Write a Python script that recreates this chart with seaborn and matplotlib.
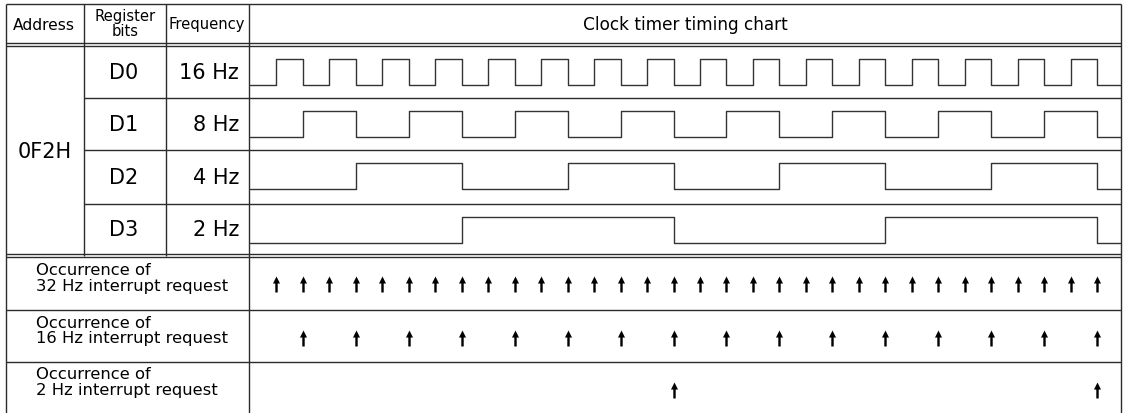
import matplotlib
matplotlib.use("Agg")
import matplotlib.pyplot as plt
import seaborn as sns
import pandas as pd
from matplotlib.path import Path

sns.set_theme(style="white")
plt.rcParams['font.family'] = ['DejaVu Sans']

# ---------------- data ----------------
title = "Clock timer timing chart"
header_address = "Address"
header_register = ["Register", "bits"]
header_freq = "Frequency"
address = "0F2H"
bit_names = ["D0", "D1", "D2", "D3"]
bit_freqs = ["16 Hz", "8 Hz", "4 Hz", "2 Hz"]

# level of each register bit in each 1/32 s slot (slots 0..32)
d0_levels = [0, 1, 0, 1, 0, 1, 0, 1, 0, 1, 0, 1, 0, 1, 0, 1,
             0, 1, 0, 1, 0, 1, 0, 1, 0, 1, 0, 1, 0, 1, 0, 1, 0]
d1_levels = [0, 0, 1, 1, 0, 0, 1, 1, 0, 0, 1, 1, 0, 0, 1, 1,
             0, 0, 1, 1, 0, 0, 1, 1, 0, 0, 1, 1, 0, 0, 1, 1, 0]
d2_levels = [0, 0, 0, 0, 1, 1, 1, 1, 0, 0, 0, 0, 1, 1, 1, 1,
             0, 0, 0, 0, 1, 1, 1, 1, 0, 0, 0, 0, 1, 1, 1, 1, 0]
d3_levels = [0, 0, 0, 0, 0, 0, 0, 0, 1, 1, 1, 1, 1, 1, 1, 1,
             0, 0, 0, 0, 0, 0, 0, 0, 1, 1, 1, 1, 1, 1, 1, 1, 0]
slot_starts = [0, 1, 2, 3, 4, 5, 6, 7, 8, 9, 10, 11, 12, 13, 14, 15, 16,
               17, 18, 19, 20, 21, 22, 23, 24, 25, 26, 27, 28, 29, 30, 31, 32]
chart_end = 32.9

irq_labels = ["Occurrence of\n32 Hz interrupt request",
              "Occurrence of\n16 Hz interrupt request",
              "Occurrence of\n2 Hz interrupt request"]
irq32_times = [1, 2, 3, 4, 5, 6, 7, 8, 9, 10, 11, 12, 13, 14, 15, 16,
               17, 18, 19, 20, 21, 22, 23, 24, 25, 26, 27, 28, 29, 30, 31, 32]
irq16_times = [2, 4, 6, 8, 10, 12, 14, 16, 18, 20, 22, 24, 26, 28, 30, 32]
irq2_times = [16, 32]

# ---------------- layout (pixels) ----------------
W, H = 1126, 414
LINE = "#2b2b2b"
x_left, x_addr, x_reg, x_freq, x_right = 6, 84, 166, 249, 1121
y_top = 5
row_tops = [47, 99, 151, 205]
row_bot = 256
irq_rows = [258, 311, 363, 414]
t0_px, unit_px = 250.0, 26.47

fig = plt.figure(figsize=(W / 100, H / 100), dpi=100)
ax = fig.add_axes([0, 0, 1, 1])
ax.set_xlim(0, W)
ax.set_ylim(H, 0)
ax.axis("off")

lw = 1.0
# outer / grid lines
ax.hlines(y_top, x_left, x_right, color=LINE, lw=lw)
ax.hlines([43.5, 46.5], x_left, x_right, color=LINE, lw=lw)
ax.hlines(row_tops[1:], x_addr, x_right, color=LINE, lw=lw)
ax.hlines([255, 258], x_left, x_right, color=LINE, lw=lw)
ax.hlines(irq_rows[1:3], x_left, x_right, color=LINE, lw=lw)
ax.vlines(x_left, y_top, H, color=LINE, lw=lw)
ax.vlines([x_addr, x_reg], y_top, 256.5, color=LINE, lw=lw)
ax.vlines([x_freq, x_right], y_top, H, color=LINE, lw=lw)

# header texts
ax.text(44, 25, header_address, ha="center", va="center", fontsize=11.2, color="black")
ax.text(125, 16, header_register[0], ha="center", va="center", fontsize=10.6, color="black")
ax.text(125, 32, header_register[1], ha="center", va="center", fontsize=10.6, color="black")
ax.text(207, 25, header_freq, ha="center", va="center", fontsize=10.6, color="black")
ax.text((x_freq + x_right) / 2, 25, title, ha="center", va="center", fontsize=12.2, color="black")

ax.text(45, 152, address, ha="center", va="center", fontsize=15, color="black")
for i, (b, f) in enumerate(zip(bit_names, bit_freqs)):
    top = row_tops[i]
    bot = row_tops[i + 1] if i + 1 < len(row_tops) else row_bot
    cy = (top + bot) / 2
    ax.text(124, cy, b, ha="center", va="center", fontsize=15, color="black")
    ax.text(239, cy, f, ha="right", va="center", fontsize=15, color="black")

for i, lab in enumerate(irq_labels):
    cy = (irq_rows[i] + irq_rows[i + 1]) / 2 - 6
    ax.text(36, cy, lab, ha="left", va="center", fontsize=11.8,
            linespacing=1.05, color="black")

# waveform axes: x in 1/32 s slots, y in pixels
left_f = x_freq / W
right_f = x_right / W
axw = fig.add_axes([left_f, 0, right_f - left_f, 1])
axw.set_xlim((x_freq - t0_px) / unit_px, (x_right - t0_px) / unit_px)
axw.set_ylim(H, 0)
axw.axis("off")
axw.patch.set_alpha(0)

swing = 26
for i, levels in enumerate([d0_levels, d1_levels, d2_levels, d3_levels]):
    low_y = row_tops[i] + 39
    df = pd.DataFrame({"t": slot_starts + [chart_end],
                       "y": [low_y - swing * v for v in levels + [levels[-1]]]})
    sns.lineplot(data=df, x="t", y="y", ax=axw, estimator=None, sort=False,
                 drawstyle="steps-post", color="#333333", linewidth=1.0)

arrow = Path([(0, 0.5), (0.22, 0.06), (0.075, 0.06), (0.075, -0.5),
              (-0.075, -0.5), (-0.075, 0.06), (-0.22, 0.06), (0, 0.5)],
             [Path.MOVETO] + [Path.LINETO] * 6 + [Path.CLOSEPOLY])
arrow_y = [285, 339, 391]
for times, yy in zip([irq32_times, irq16_times, irq2_times], arrow_y):
    df = pd.DataFrame({"t": times, "y": [yy] * len(times)})
    sns.scatterplot(data=df, x="t", y="y", ax=axw, marker=arrow, s=11.5 ** 2,
                    color="black", edgecolor="black", linewidth=0)

axw.set_xlabel("")
axw.set_ylabel("")
fig.savefig("out.png", dpi=100)
